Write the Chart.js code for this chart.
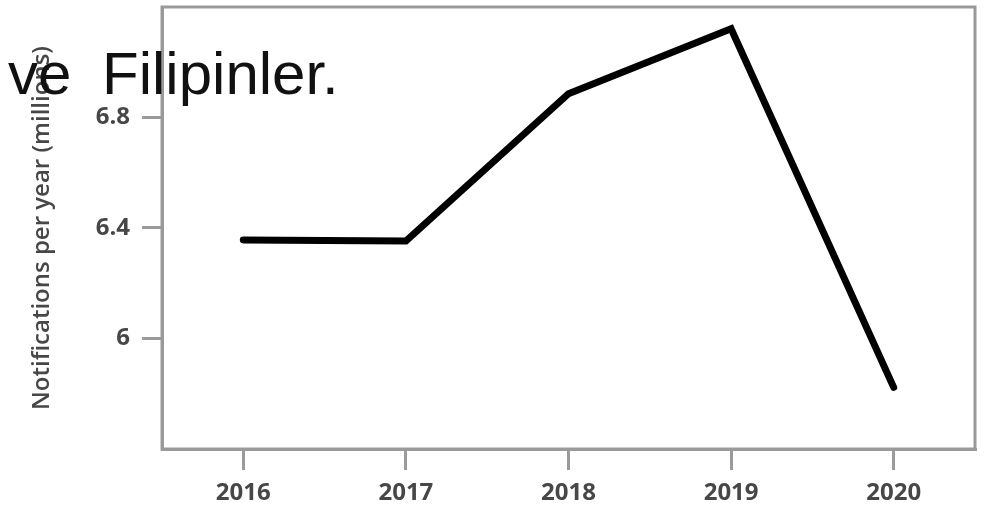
<!DOCTYPE html>
<html>
<head>
<meta charset="utf-8">
<script src="https://cdn.jsdelivr.net/npm/chart.js@4"></script>
<style>
  html, body { margin: 0; padding: 0; background: #fff; }
  #wrap { position: relative; width: 986px; height: 505px; }
  #overlay {
    position: absolute; left: 8px; top: 44px;
    font-family: "Liberation Sans", Arial, sans-serif;
    font-size: 60px; line-height: 60px; color: #111;
    word-spacing: 14px;
    white-space: pre; pointer-events: none;
  }
</style>
</head>
<body>
<div id="wrap">
  <canvas id="chart"></canvas>
  <div id="overlay">ve Filipinler.</div>
</div>
<script>
var years = ['2016', '2017', '2018', '2019', '2020'];
var notifications = [6.357, 6.353, 6.886, 7.121, 5.823];
var yTicks = [6, 6.4, 6.8];

var axisGray = '#9a9a9a';
var labelGray = '#474747';
var tickFont = { family: '"Open Sans", sans-serif', size: 24, weight: '700' };

// box round the plot area
var frame = {
    id: 'frame',
    beforeDatasetsDraw: function(chart) {
        var a = chart.chartArea, ctx = chart.ctx;
        ctx.save();
        ctx.strokeStyle = axisGray;
        ctx.lineWidth = 3;
        ctx.strokeRect(a.left, a.top, a.right - a.left, a.bottom - a.top);
        ctx.restore();
    }
};

var ctx = document.getElementById('chart').getContext('2d');
var lineChart = new Chart(ctx, {
    type: 'line',
    data: {
        labels: years,
        datasets: [{
            data: notifications,
            borderColor: '#000',
            borderWidth: 7,
            borderCapStyle: 'round',
            borderJoinStyle: 'miter',
            pointRadius: 0,
            tension: 0,
            fill: false
        }]
    },
    options: {
        responsive: true,
        maintainAspectRatio: false,
        animation: false,
        layout: { padding: { top: 7, right: 11, left: 0, bottom: 0 } },
        plugins: { legend: { display: false }, tooltip: { enabled: false } },
        scales: {
            x: {
                type: 'category',
                offset: true,
                afterFit: function(s) { s.height = 56; s.paddingLeft = 0; s.paddingRight = 0; },
                border: { display: true, color: axisGray, width: 3 },
                grid: { drawOnChartArea: false, drawTicks: true, tickLength: 21, color: axisGray, lineWidth: 3 },
                ticks: { color: labelGray, padding: 9, maxRotation: 0, font: tickFont }
            },
            y: {
                min: 5.6,
                max: 7.2,
                afterFit: function(s) { s.width = 162; s.paddingTop = 0; s.paddingBottom = 0; },
                afterBuildTicks: function(s) { s.ticks = yTicks.map(function(v) { return { value: v }; }); },
                border: { display: true, color: axisGray, width: 3 },
                grid: { drawOnChartArea: false, drawTicks: true, tickLength: 20, color: axisGray, lineWidth: 3 },
                ticks: {
                    color: labelGray, padding: 12, font: tickFont,
                    callback: function(v) { return String(v); }
                },
                title: {
                    display: true,
                    text: 'Notifications per year (millions)',
                    color: labelGray,
                    padding: { top: 28, bottom: 0 },
                    font: { family: '"Open Sans", sans-serif', size: 24, weight: '600' }
                }
            }
        }
    },
    plugins: [frame]
});
</script>
</body>
</html>
